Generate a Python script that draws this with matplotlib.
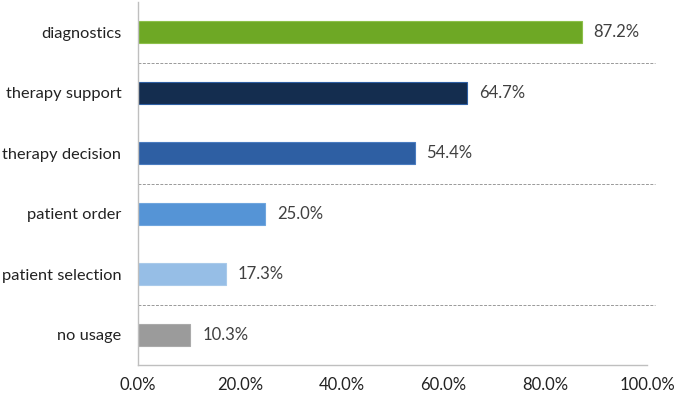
import matplotlib.pyplot as plt

categories = ['diagnostics', 'therapy support', 'therapy decision', 'patient order', 'patient selection', 'no usage']
values = [87.2, 64.7, 54.4, 25.0, 17.3, 10.3]
colors = ['#6EA825', '#142D4F', '#2E5FA3', '#5594D6', '#96BEE6', '#9B9B9B']
edges = ['#8DC04A', '#2E5FA3', '#4A7CC0', '#6FA6DE', '#A9CAEA', '#AAAAAA']
xticks = [0, 20, 40, 60, 80, 100]

plt.rcParams['font.family'] = ['Lato', 'DejaVu Sans']

fig = plt.figure(figsize=(6.75, 3.96), dpi=100)
ax = fig.add_axes([138 / 675, 1 - 365 / 396, 509 / 675, 363 / 396])

ypos = list(range(len(categories)))
ax.barh(ypos, values, height=0.36, color=colors, edgecolor=edges, linewidth=0.8)
ax.set_ylim(len(categories) - 0.5, -0.5)
ax.set_xlim(0, 100)

# value labels
for y, v in zip(ypos, values):
    ax.text(v + 2.3, y, f'{v:.1f}%', va='center', ha='left', fontsize=12, color='#404040')

# dashed separators between groups
for y in [0.5, 2.5, 4.5]:
    ax.plot([0, 1.016], [y, y], transform=ax.get_yaxis_transform(), color='#999999',
            linestyle=(0, (3, 1.5)), linewidth=0.7, clip_on=False)

ax.set_yticks(ypos)
ax.set_yticklabels(categories, fontsize=11.8, color='#222222')
ax.set_xticks(xticks)
ax.set_xticklabels([f'{t:.1f}%' for t in xticks], fontsize=12, color='#222222')
ax.tick_params(length=0)
ax.tick_params(axis='y', pad=12)
ax.tick_params(axis='x', pad=9)

for s in ['top', 'right']:
    ax.spines[s].set_visible(False)
ax.spines['left'].set_color('#BFBFBF')
ax.spines['bottom'].set_color('#BFBFBF')
ax.spines['left'].set_linewidth(1.0)
ax.spines['bottom'].set_linewidth(1.0)

fig.savefig('out.png', dpi=100)
